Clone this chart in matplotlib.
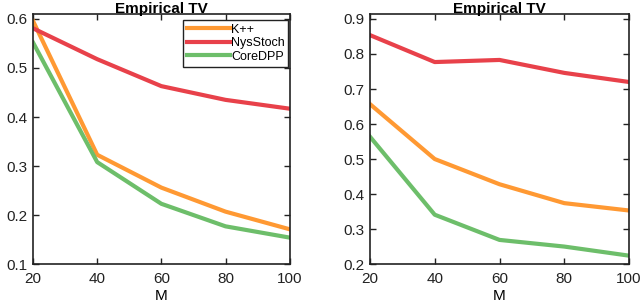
import matplotlib
matplotlib.use("Agg")
import matplotlib.pyplot as plt

plt.rcParams['font.family'] = ['Liberation Sans', 'DejaVu Sans']

# data
M = [20, 40, 60, 80, 100]
series_names = ["K++", "NysStoch", "CoreDPP"]
colors = ["#FF9933", "#E8414A", "#6DBE6A"]

left_kpp = [0.596, 0.323, 0.256, 0.207, 0.171]
left_nys = [0.581, 0.518, 0.463, 0.435, 0.417]
left_core = [0.552, 0.308, 0.223, 0.177, 0.154]

right_kpp = [0.657, 0.500, 0.428, 0.374, 0.353]
right_nys = [0.854, 0.777, 0.783, 0.746, 0.720]
right_core = [0.564, 0.341, 0.269, 0.250, 0.224]

fig = plt.figure(figsize=(6.4, 3.06), dpi=100)
ax1 = fig.add_axes([0.0516, 0.137, 0.401, 0.817])
ax2 = fig.add_axes([0.578, 0.137, 0.405, 0.817])


def style(ax, ylim, yticks):
    ax.set_xlim(20, 100)
    ax.set_ylim(*ylim)
    ax.set_xticks(M)
    ax.set_yticks(yticks)
    ax.set_yticklabels([f"{t:.1f}" for t in yticks])
    ax.tick_params(direction='in', top=True, right=True, length=4,
                   width=1.0, labelsize=11, colors='#222222')
    ax.tick_params(axis='x', pad=6)
    ax.tick_params(axis='y', pad=4)
    for s in ax.spines.values():
        s.set_linewidth(1.2)
        s.set_color('#222222')
    ax.set_title("Empirical TV", fontsize=11, fontweight='bold', pad=1)
    ax.set_xlabel("M", fontsize=11, labelpad=2)


for ax, data in [(ax1, [left_kpp, left_nys, left_core]),
                 (ax2, [right_kpp, right_nys, right_core])]:
    for name, vals, c in zip(series_names, data, colors):
        ax.plot(M, vals, color=c, lw=3.0, label=name, solid_joinstyle='round')

style(ax1, (0.1, 0.61), [0.1, 0.2, 0.3, 0.4, 0.5, 0.6])
style(ax2, (0.2, 0.914), [0.2, 0.3, 0.4, 0.5, 0.6, 0.7, 0.8, 0.9])

leg = ax1.legend(loc='upper right', bbox_to_anchor=(0.995, 0.976),
                 fontsize=9, handlelength=3.4,
                 borderaxespad=0, fancybox=False, framealpha=1,
                 edgecolor='#222222', handletextpad=0.1, labelspacing=0.12,
                 borderpad=0.3)
leg.get_frame().set_linewidth(1.0)

fig.savefig("out.png", dpi=100)
